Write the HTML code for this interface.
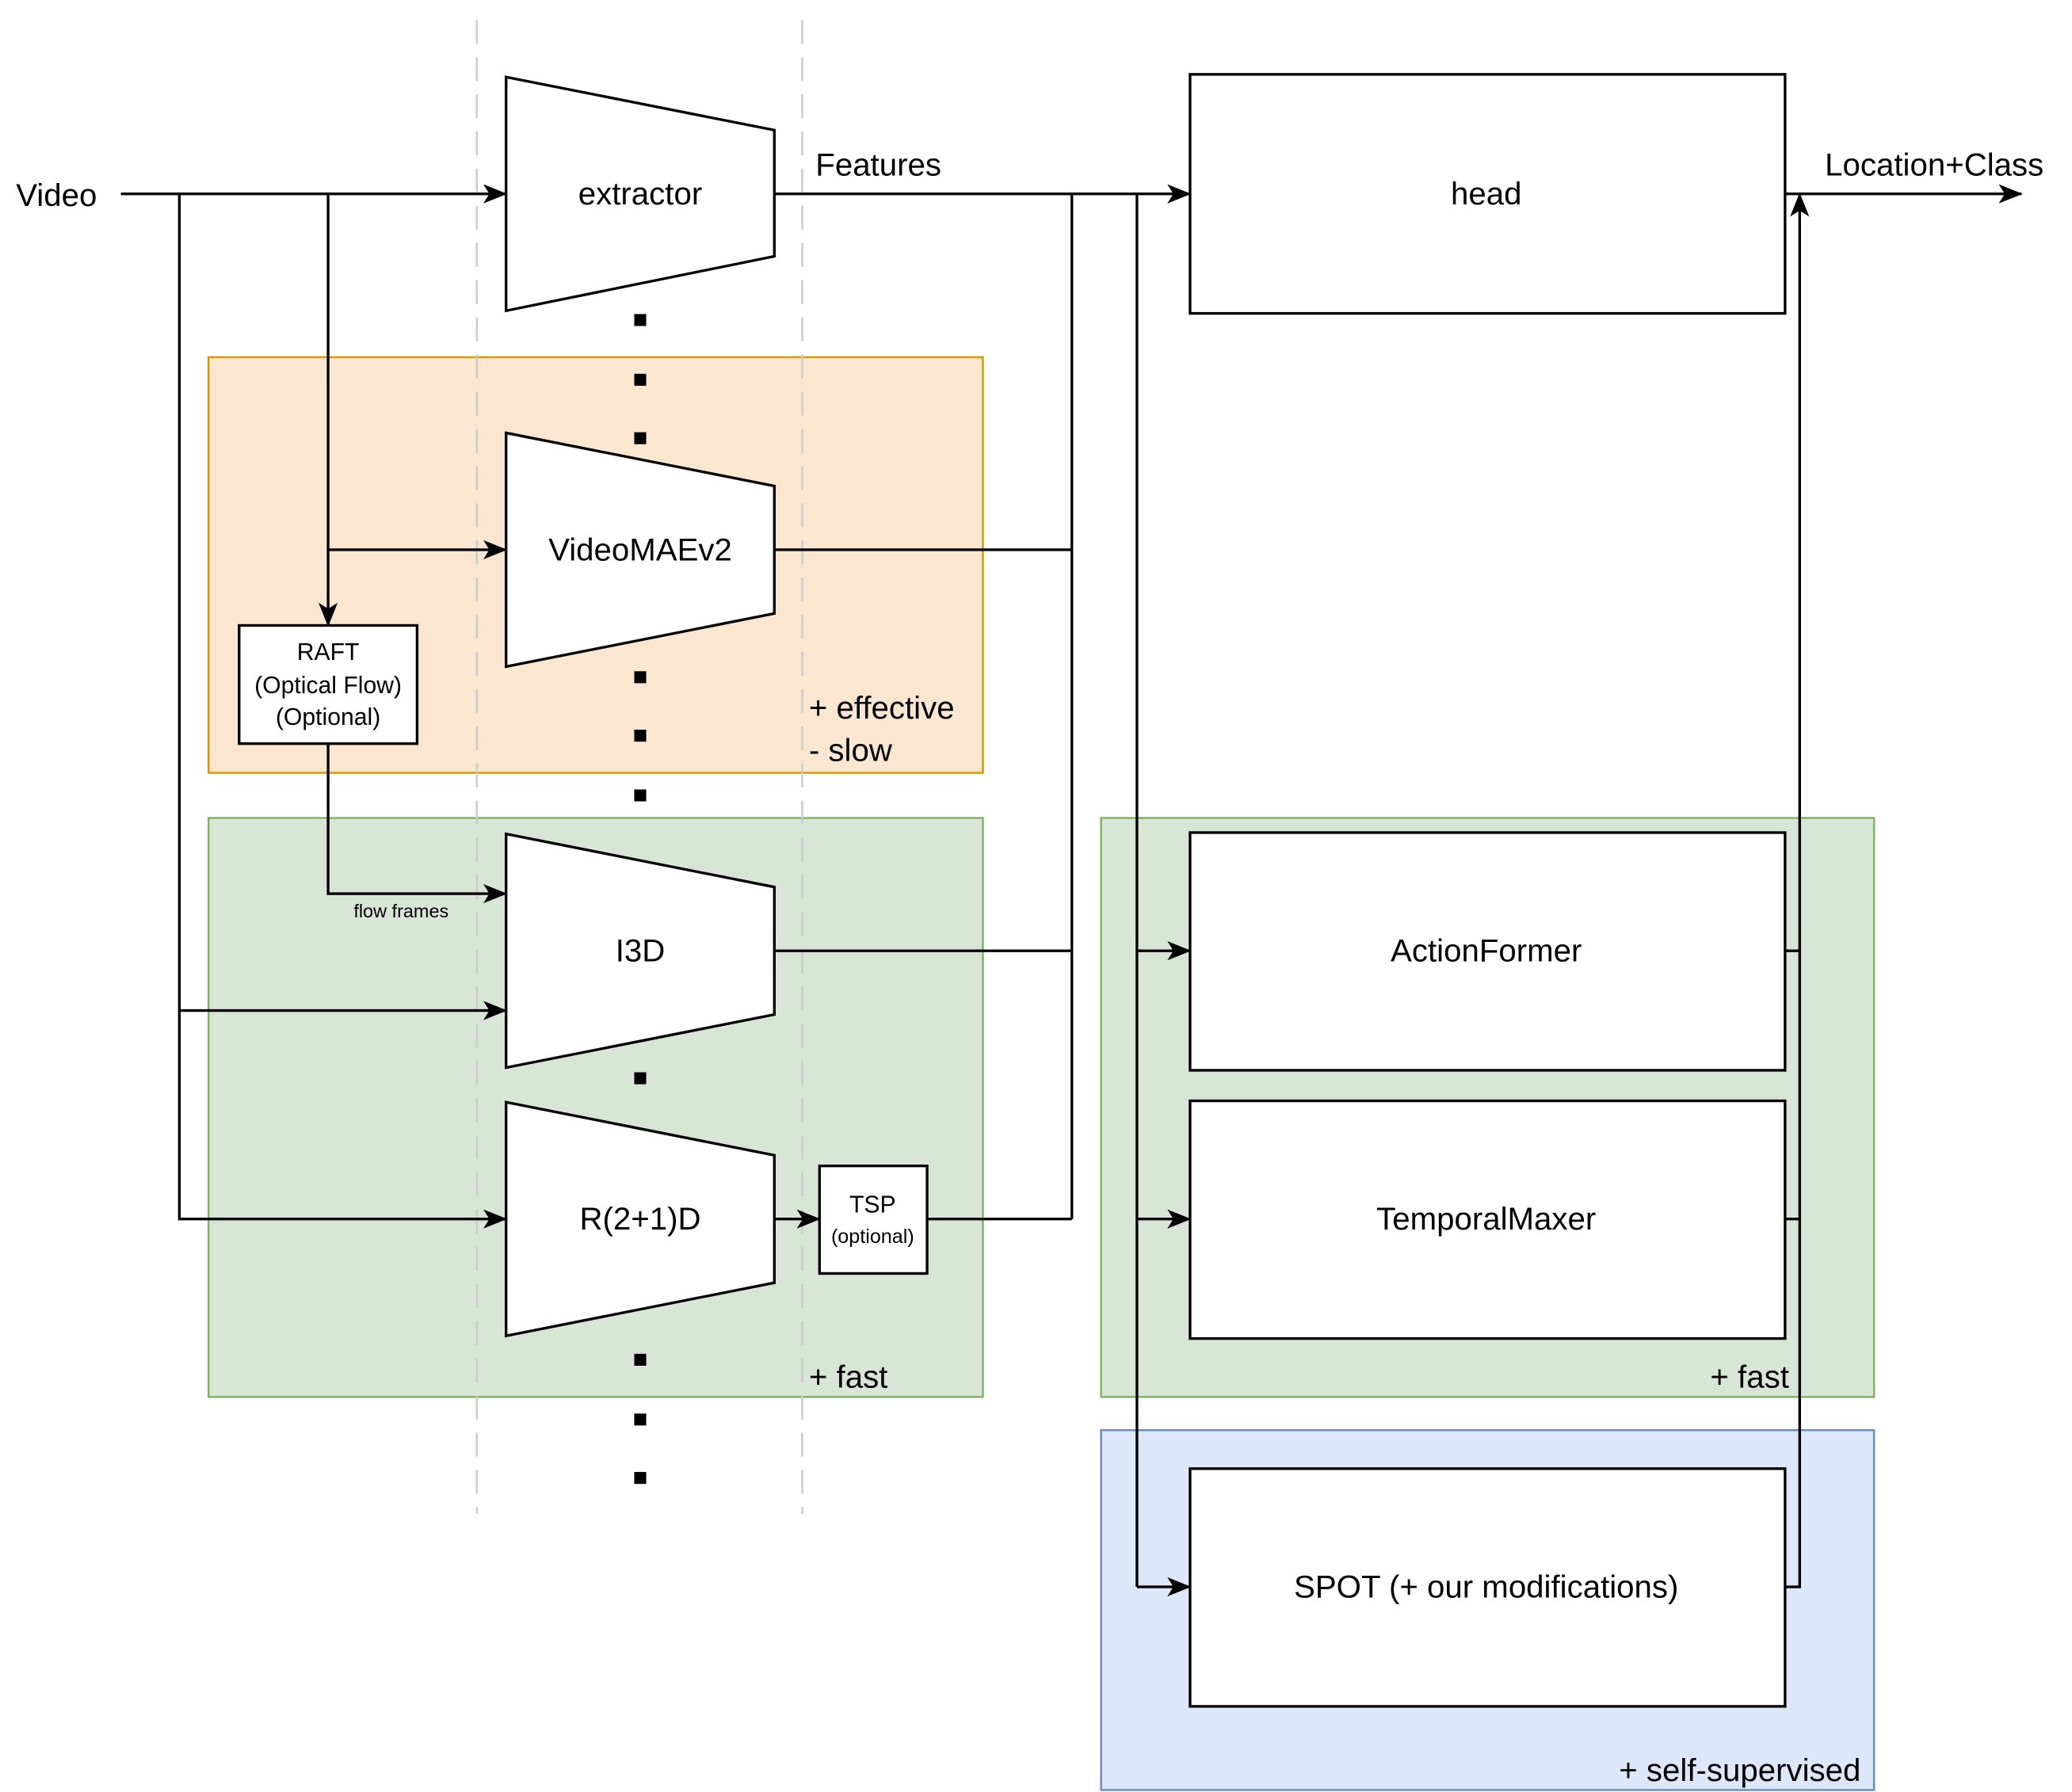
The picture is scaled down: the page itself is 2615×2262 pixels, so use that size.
<!DOCTYPE html>
<html><head><style>html,body{margin:0;padding:0;background:#fff}svg{display:block}text{font-family:"Liberation Sans",Arial,sans-serif;fill:#000}</style></head>
<body>
<svg width="2615" height="2262" viewBox="0 0 1560 1349.5" xmlns="http://www.w3.org/2000/svg">
<defs>
<marker id="a" viewBox="0 0 20 16" refX="19" refY="8" markerWidth="18" markerHeight="15" markerUnits="userSpaceOnUse" orient="auto">
<path d="M0,0 L20,8 L0,16 L5,8 Z" fill="#000"/>
</marker>
</defs>
<rect x="157" y="269" width="583" height="313" fill="#fbe6d0" stroke="#d79b00" stroke-width="1.5"/>
<rect x="157" y="616" width="583" height="436" fill="#d8e7d5" stroke="#82b366" stroke-width="1.5"/>
<rect x="829" y="616" width="582" height="436" fill="#d8e7d5" stroke="#82b366" stroke-width="1.5"/>
<rect x="829" y="1077" width="582" height="271" fill="#dce8fa" stroke="#6c8ebf" stroke-width="1.5"/>
<g stroke="#ccc" stroke-width="1.5" stroke-dasharray="18,10" fill="none">
<line x1="359" y1="15" x2="359" y2="1140"/><line x1="604" y1="15" x2="604" y2="1140"/>
</g>
<g fill="#fff" stroke="#000" stroke-width="2">
<polygon points="381,58 583,98 583,193 381,234"/>
<polygon points="381,326 583,366 583,462 381,502"/>
<polygon points="381,628 583,668 583,764 381,804"/>
<polygon points="381,830 583,870 583,966 381,1006"/>
<rect x="896" y="56" width="448" height="180"/>
<rect x="896" y="627" width="448" height="179"/>
<rect x="896" y="829" width="448" height="179"/>
<rect x="896" y="1106" width="448" height="179"/>
<rect x="180" y="471" width="134" height="89"/>
<rect x="617" y="878" width="81" height="81"/>
</g>
<g fill="#000">
<rect x="477.5" y="236.5" width="9" height="9"/><rect x="477.5" y="281.5" width="9" height="9"/><rect x="477.5" y="325.5" width="9" height="9"/>
<rect x="477.5" y="505.5" width="9" height="9"/><rect x="477.5" y="549.5" width="9" height="9"/><rect x="477.5" y="594.5" width="9" height="9"/>
<rect x="477.5" y="807.5" width="9" height="9"/>
<rect x="477.5" y="1019.5" width="9" height="9"/><rect x="477.5" y="1064.5" width="9" height="9"/><rect x="477.5" y="1108.5" width="9" height="9"/>
</g>
<g stroke="#000" stroke-width="2" fill="none">
<line x1="91" y1="146" x2="381" y2="146" marker-end="url(#a)"/>
<polyline points="135,146 135,918 381,918" marker-end="url(#a)"/>
<line x1="135" y1="761" x2="381" y2="761" marker-end="url(#a)"/>
<line x1="247" y1="146" x2="247" y2="471" marker-end="url(#a)"/>
<line x1="247" y1="414" x2="381" y2="414" marker-end="url(#a)"/>
<polyline points="247,560 247,673 381,673" marker-end="url(#a)"/>
<line x1="583" y1="146" x2="896" y2="146" marker-end="url(#a)"/>
<polyline points="583,414 807,414"/>
<line x1="807" y1="146" x2="807" y2="918"/>
<line x1="583" y1="716" x2="807" y2="716"/>
<line x1="698" y1="918" x2="807" y2="918"/>
<line x1="583" y1="918" x2="617" y2="918" marker-end="url(#a)"/>
<line x1="856" y1="146" x2="856" y2="1195"/>
<line x1="856" y1="716" x2="896" y2="716" marker-end="url(#a)"/>
<line x1="856" y1="918" x2="896" y2="918" marker-end="url(#a)"/>
<line x1="856" y1="1195" x2="896" y2="1195" marker-end="url(#a)"/>
<line x1="1344" y1="716" x2="1355" y2="716"/>
<line x1="1344" y1="918" x2="1355" y2="918"/>
<polyline points="1344,1195 1355,1195 1355,146" marker-end="url(#a)"/>
<line x1="1344" y1="146" x2="1522" y2="146" marker-end="url(#a)"/>
</g>
<g font-size="24" text-anchor="middle" dominant-baseline="central">
<text x="482" y="146">extractor</text>
<text x="482" y="414">VideoMAEv2</text>
<text x="482" y="716">I3D</text>
<text x="482" y="918">R(2+1)D</text>
<text x="1119" y="146">head</text>
<text x="1119" y="716">ActionFormer</text>
<text x="1119" y="918">TemporalMaxer</text>
<text x="1119" y="1195">SPOT (+ our modifications)</text>
</g>
<g font-size="24">
<text x="12" y="155">Video</text>
<text x="614" y="132">Features</text>
<text x="1374" y="132">Location+Class</text>
<text x="609" y="541">+ effective</text>
<text x="609" y="573">- slow</text>
<text x="609" y="1045">+ fast</text>
<text x="1347" y="1045" text-anchor="end">+ fast</text>
<text x="1401" y="1341" text-anchor="end">+ self-supervised</text>
</g>
<g font-size="18" text-anchor="middle">
<text x="247" y="497">RAFT</text>
<text x="247" y="522">(Optical Flow)</text>
<text x="247" y="546">(Optional)</text>
<text x="657" y="913">TSP</text>
<text x="657" y="936" font-size="15">(optional)</text>
</g>
<text x="302" y="691" font-size="14" text-anchor="middle">flow frames</text>
</svg>
</body></html>
